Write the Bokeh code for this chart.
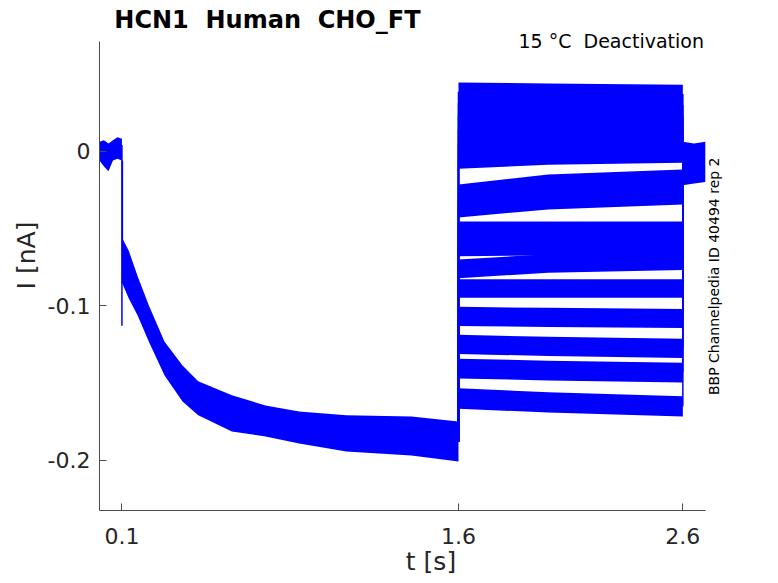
import math
from bokeh.plotting import figure
from bokeh.models import FixedTicker, Label, Range1d
from bokeh.embed import file_html
from bokeh.resources import INLINE

# ---------------- data ----------------
title_text = "HCN1\u00a0 Human\u00a0 CHO_FT"
cond_text = "15 °C\u00a0 Deactivation"
side_text = "BBP Channelpedia ID 40494 rep 2"
x_label = "t [s]"
y_label = "I [nA]"

x_ticks = [0.1, 1.6, 2.6]
x_tick_labels = ["0.1", "1.6", "2.6"]
y_ticks = [-0.2, -0.1, 0.0]
y_tick_labels = ["-0.2", "-0.1", "0"]

# holding current before the activation step (envelope of the noisy traces)
hold1_t = [0.0, 0.02, 0.04, 0.06, 0.08, 0.1]
hold1_hi = [0.006, 0.007, 0.005, 0.007, 0.009, 0.008]
hold1_lo = [-0.006, -0.010, -0.013, -0.006, -0.005, -0.006]

# capacitive spike at the activation step
spike_t = [0.1, 0.1]
spike_i = [0.004, -0.113]

# activation phase (all sweeps overlap): upper / lower envelope
act_t = [0.102, 0.13, 0.17, 0.22, 0.29, 0.37, 0.44, 0.59, 0.74, 0.89, 1.10, 1.39, 1.60]
act_hi = [-0.0565, -0.0643, -0.0810, -0.0999, -0.1233, -0.1387, -0.1490, -0.1580,
          -0.1646, -0.1685, -0.1710, -0.1717, -0.1750]
act_lo = [-0.0856, -0.0953, -0.1064, -0.1233, -0.1452, -0.1620, -0.1710, -0.1814,
          -0.1847, -0.1892, -0.1944, -0.1970, -0.2009]

# deactivation sweeps: mean current at these times, one list per sweep
deact_t = [1.6, 2.0, 2.6]
deact_i = [
    [0.0385, 0.0378, 0.0370],
    [0.0310, 0.0305, 0.0298],
    [0.0231, 0.0231, 0.0225],
    [0.0140, 0.0147, 0.0147],
    [0.0043, 0.0063, 0.0070],
    [-0.0054, -0.0028, -0.0015],
    [-0.0274, -0.0209, -0.0177],
    [-0.0371, -0.0319, -0.0287],
    [-0.0513, -0.0513, -0.0513],
    [-0.0623, -0.0617, -0.0617],
    [-0.0762, -0.0727, -0.0710],
    [-0.0889, -0.0889, -0.0889],
    [-0.1070, -0.1076, -0.1083],
    [-0.1251, -0.1264, -0.1277],
    [-0.1407, -0.1420, -0.1433],
    [-0.1601, -0.1626, -0.1652],
]
# half peak-to-peak noise of each sweep
deact_noise = [0.0060, 0.0060, 0.0060, 0.0060, 0.0060, 0.0060, 0.0058, 0.0058,
               0.0058, 0.0058, 0.0060, 0.0060, 0.0062, 0.0062, 0.0064, 0.0066]

# holding current after the test pulse
hold2_t = [2.6, 2.65, 2.7]
hold2_hi = [0.006, 0.005, 0.006]
hold2_lo = [-0.022, -0.021, -0.020]

# axes limits of the drawn box
x_lim = (0.0, 2.7)
y_lim = (-0.2326, 0.071)

# ---------------- figure ----------------
FONT = "DejaVu Sans"
TXT = "#262626"
BLUE = "#0000ff"

# the frame is extended to the top and right canvas edges so that the
# title / side texts (drawn as labels) are not clipped; spines use bounds.
p = figure(width=762, height=583, x_range=Range1d(0, 2.955), y_range=Range1d(-0.2326, 0.0975),
           output_backend="svg", toolbar_location=None,
           min_border_left=99, min_border_right=0, min_border_top=0, min_border_bottom=73)

p.outline_line_color = None
p.grid.visible = False
p.background_fill_color = "white"
p.border_fill_color = "white"

for ax in (p.xaxis[0], p.yaxis[0]):
    ax.axis_line_color = "#4d4d4d"
    ax.major_tick_line_color = "#4d4d4d"
    ax.major_tick_in = 7
    ax.major_tick_out = 0
    ax.minor_tick_line_color = None
    ax.major_label_text_font = FONT
    ax.major_label_text_font_size = "22px"
    ax.major_label_text_color = TXT
    ax.axis_label_text_font = FONT
    ax.axis_label_text_font_style = "normal"
    ax.axis_label_text_color = TXT

p.xaxis.bounds = x_lim
p.yaxis.bounds = y_lim
p.xaxis.ticker = FixedTicker(ticks=x_ticks)
p.xaxis.major_label_overrides = {t: s for t, s in zip(x_ticks, x_tick_labels)}
p.yaxis.ticker = FixedTicker(ticks=y_ticks)
p.yaxis.major_label_overrides = {t: s for t, s in zip(y_ticks, y_tick_labels)}
p.xaxis.axis_label = x_label
p.yaxis.axis_label = y_label
p.xaxis.axis_label_text_font_size = "25px"
p.yaxis.axis_label_text_font_size = "25px"
p.xaxis.major_label_standoff = 17
p.xaxis.axis_label_standoff = 0
p.yaxis.major_label_standoff = 9
p.yaxis.axis_label_standoff = 4

# holding before step
p.varea(x=hold1_t, y1=hold1_lo, y2=hold1_hi, fill_color=BLUE)
# spike
p.line(x=spike_t, y=spike_i, line_color=BLUE, line_width=1.5)
# activation
p.varea(x=act_t, y1=act_lo, y2=act_hi, fill_color=BLUE)
p.line(x=[act_t[0], act_t[0]], y=[hold1_lo[-1], act_lo[0]], line_color=BLUE, line_width=1.5)

# deactivation sweeps
act_end = (act_hi[-1] + act_lo[-1]) / 2
hold2_start = (hold2_hi[0] + hold2_lo[0]) / 2
for vals, nz in zip(deact_i, deact_noise):
    lo = [v - nz for v in vals]
    hi = [v + nz for v in vals]
    p.varea(x=deact_t, y1=lo, y2=hi, fill_color=BLUE)
    p.line(x=[deact_t[0], deact_t[0]], y=[act_end, vals[0]], line_color=BLUE, line_width=1.5)
    p.line(x=[deact_t[-1], deact_t[-1]], y=[vals[-1], hold2_start], line_color=BLUE, line_width=1.5)

# holding after pulse
p.varea(x=hold2_t, y1=hold2_lo, y2=hold2_hi, fill_color=BLUE)

# texts
p.add_layout(Label(x=0.066, y=0.0848, text=title_text, text_align="left",
                   text_baseline="alphabetic", text_font=FONT, text_font_size="24px",
                   text_font_style="bold", text_color="#000000"))
p.add_layout(Label(x=2.694, y=0.0712, text=cond_text, text_align="right",
                   text_baseline="alphabetic", text_font=FONT, text_font_size="19px",
                   text_color="#000000"))
p.add_layout(Label(x=2.741, y=-0.081, text=side_text, text_align="center",
                   text_baseline="middle", angle=math.pi / 2, text_font=FONT,
                   text_font_size="14px", text_color="#000000"))

open("out.html", "w").write(file_html(p, INLINE))
